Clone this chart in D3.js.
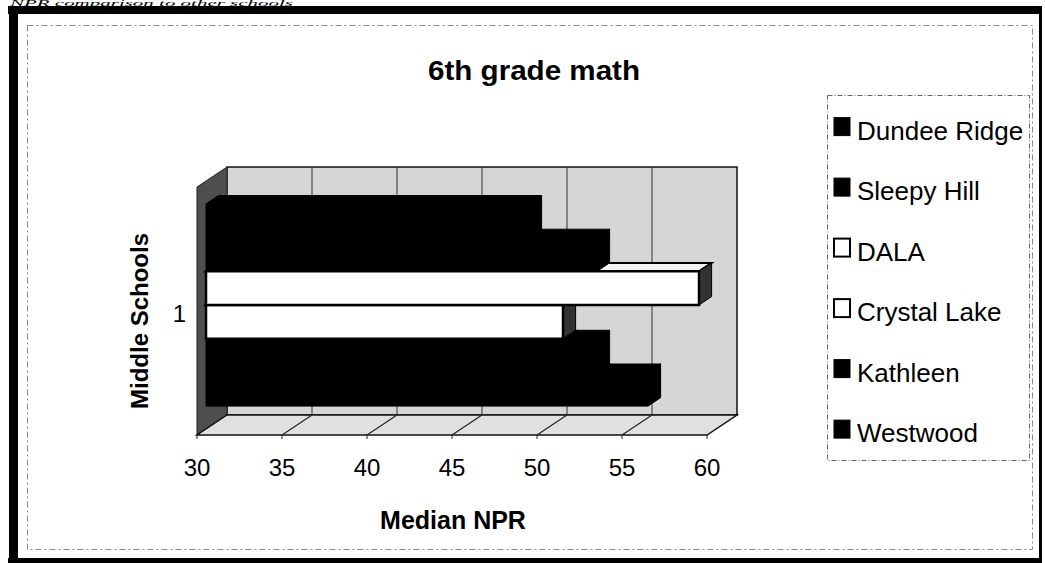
<!DOCTYPE html>
<html>
<head>
<meta charset="utf-8">
<script src="https://cdn.jsdelivr.net/npm/d3@7"></script>
<style>
  html, body { margin: 0; padding: 0; background: #fff; }
  svg { display: block; }
</style>
</head>
<body>
<script>
// ---- data ----
const categories = ["1"];
const series = ["Dundee Ridge", "Sleepy Hill", "DALA", "Crystal Lake", "Kathleen", "Westwood"];
const values = [49, 53, 59, 51, 53, 56];
const xTicks = [30, 35, 40, 45, 50, 55, 60];
const chartTitle = "6th grade math";
const xTitle = "Median NPR";
const yTitle = "Middle Schools";
const pageNote = "NPR comparison to other schools";

// ---- styles ----
const FONT = "'Liberation Sans', Arial, Helvetica, sans-serif";
const fillColor = d3.scaleOrdinal(series, ["#000", "#000", "#fff", "#fff", "#000", "#000"]);

const W = 1045, H = 563;
const svg = d3.select("body").append("svg").attr("width", W).attr("height", H);

// page note at the very top
svg.append("text").attr("x", 10).attr("y", 5.5)
  .attr("font-family", "'Liberation Serif', 'Times New Roman', serif")
  .attr("font-style", "italic").attr("font-size", 7.5)
  .attr("textLength", 283).attr("lengthAdjust", "spacingAndGlyphs")
  .text(pageNote);

// outer black frame
svg.append("rect").attr("x", 8).attr("y", 6).attr("width", 1034).attr("height", 8).attr("fill", "#000");
svg.append("rect").attr("x", 9).attr("y", 6).attr("width", 9).attr("height", 557).attr("fill", "#000");
svg.append("rect").attr("x", 8).attr("y", 558).attr("width", 1034).attr("height", 5).attr("fill", "#000");
svg.append("rect").attr("x", 1039).attr("y", 6).attr("width", 3).attr("height", 557).attr("fill", "#000");

// inner dashed chart-area border
svg.append("rect").attr("x", 27.5).attr("y", 25.5).attr("width", 1005).attr("height", 524)
  .attr("fill", "none").attr("stroke", "#888").attr("stroke-width", 1).attr("stroke-dasharray", "6,3,2,3");

// ---- 3D geometry ----
const x = d3.scaleLinear().domain([30, 60]).range([197, 707]);
const yPlaneTop = 187, yPlaneBottom = 435;
const DX = 30, DY = -20;
function proj(v, yy, f) { return [x(v) + f * DX, yy + f * DY]; }
const poly = pts => "M" + pts.map(p => p.join(",")).join("L") + "Z";

const yCat = d3.scaleBand().domain(categories).range([yPlaneTop, yPlaneBottom]).padding(0);
const yS = d3.scaleBand().domain(series)
  .range([yCat(categories[0]), yCat(categories[0]) + yCat.bandwidth()])
  .paddingInner(0).paddingOuter(0.68);

const g = svg.append("g");

// back wall
g.append("path").attr("d", poly([proj(30, yPlaneTop, 1), proj(60, yPlaneTop, 1), proj(60, yPlaneBottom, 1), proj(30, yPlaneBottom, 1)]))
  .attr("fill", "#d6d6d6").attr("stroke", "#111").attr("stroke-width", 1.5);
// left wall
g.append("path").attr("d", poly([proj(30, yPlaneTop, 0), proj(30, yPlaneTop, 1), proj(30, yPlaneBottom, 1), proj(30, yPlaneBottom, 0)]))
  .attr("fill", "#4e4e4e").attr("stroke", "#222").attr("stroke-width", 1);
// floor
g.append("path").attr("d", poly([proj(30, yPlaneBottom, 0), proj(60, yPlaneBottom, 0), proj(60, yPlaneBottom, 1), proj(30, yPlaneBottom, 1)]))
  .attr("fill", "#e0e0e0").attr("stroke", "#111").attr("stroke-width", 1.5);

// gridlines: back wall + floor
const inner = xTicks.filter(t => t > 30 && t < 60);
g.selectAll(".gw").data(inner).join("line")
  .attr("x1", d => proj(d, yPlaneTop, 1)[0]).attr("y1", d => proj(d, yPlaneTop, 1)[1])
  .attr("x2", d => proj(d, yPlaneBottom, 1)[0]).attr("y2", d => proj(d, yPlaneBottom, 1)[1])
  .attr("stroke", "#333").attr("stroke-width", 1);
g.selectAll(".gf").data(inner).join("line")
  .attr("x1", d => proj(d, yPlaneBottom, 1)[0]).attr("y1", d => proj(d, yPlaneBottom, 1)[1])
  .attr("x2", d => proj(d, yPlaneBottom, 0)[0]).attr("y2", d => proj(d, yPlaneBottom, 0)[1])
  .attr("stroke", "#222").attr("stroke-width", 1.2);
// floor front ticks
g.selectAll(".tk").data(xTicks).join("line")
  .attr("x1", d => x(d)).attr("x2", d => x(d))
  .attr("y1", yPlaneBottom).attr("y2", yPlaneBottom + 4)
  .attr("stroke", "#222").attr("stroke-width", 1);

// bars (drawn bottom to top so upper bars hide lower bars' top faces)
const f1 = 0.3, f2 = 0.72;
const bars = series.map((s, i) => ({ s, v: values[i] })).reverse();
const bg = g.append("g");
bars.forEach(d => {
  const y0 = yS(d.s), y1 = y0 + yS.bandwidth();
  const white = fillColor(d.s) === "#fff";
  const gb = bg.append("g");
  gb.append("path").attr("d", poly([proj(30, y0, f1), proj(d.v, y0, f1), proj(d.v, y0, f2), proj(30, y0, f2)]))
    .attr("fill", white ? "#f4f4f4" : "#000").attr("stroke", "#000").attr("stroke-width", white ? 2 : 1);
  gb.append("path").attr("d", poly([proj(d.v, y0, f1), proj(d.v, y0, f2), proj(d.v, y1, f2), proj(d.v, y1, f1)]))
    .attr("fill", white ? "#333" : "#000").attr("stroke", "#000").attr("stroke-width", 1);
  gb.append("path").attr("d", poly([proj(30, y0, f1), proj(d.v, y0, f1), proj(d.v, y1, f1), proj(30, y1, f1)]))
    .attr("fill", fillColor(d.s)).attr("stroke", "#000").attr("stroke-width", white ? 2.5 : 1);
});

// tick labels
svg.selectAll(".tl").data(xTicks).join("text")
  .attr("x", d => x(d)).attr("y", 476)
  .attr("text-anchor", "middle").attr("font-family", FONT).attr("font-size", 24)
  .text(d => d);

// category label
svg.append("text").attr("x", 186).attr("y", 322).attr("text-anchor", "end")
  .attr("font-family", FONT).attr("font-size", 24).text(categories[0]);

// titles
svg.append("text").attr("x", 534).attr("y", 80).attr("text-anchor", "middle")
  .attr("font-family", FONT).attr("font-weight", "bold").attr("font-size", 27)
  .attr("textLength", 212).attr("lengthAdjust", "spacingAndGlyphs").text(chartTitle);
svg.append("text").attr("x", 453).attr("y", 529).attr("text-anchor", "middle")
  .attr("font-family", FONT).attr("font-weight", "bold").attr("font-size", 25).text(xTitle);
svg.append("text").attr("transform", "translate(148,321) rotate(-90)").attr("text-anchor", "middle")
  .attr("font-family", FONT).attr("font-weight", "bold").attr("font-size", 24).text(yTitle);

// legend
const lg = svg.append("g");
lg.append("rect").attr("x", 827.5).attr("y", 95.5).attr("width", 202).attr("height", 365)
  .attr("fill", "#fff").attr("stroke", "#666").attr("stroke-width", 1).attr("stroke-dasharray", "5,2,1,2");
const ly = d3.scaleBand().domain(series).range([100, 463]);
const items = lg.selectAll(".li").data(series).join("g")
  .attr("transform", d => `translate(0,${ly(d) + 39.6})`);
items.append("rect").attr("x", 834).attr("y", -22).attr("width", 16).attr("height", 18)
  .attr("fill", d => fillColor(d)).attr("stroke", "#000").attr("stroke-width", d => fillColor(d) === "#fff" ? 2 : 1);
items.append("text").attr("x", 857).attr("y", 0)
  .attr("font-family", FONT).attr("font-size", 26).text(d => d);
</script>
</body>
</html>
